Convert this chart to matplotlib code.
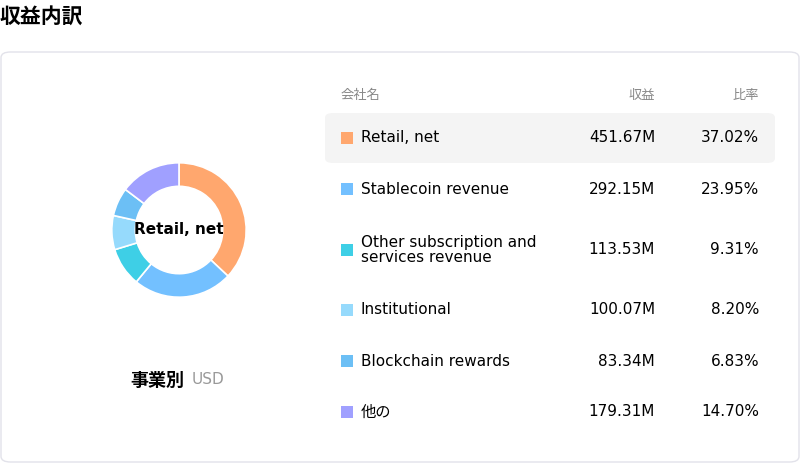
"""Revenue breakdown donut with table."""
import matplotlib
matplotlib.use("agg")
import matplotlib.pyplot as plt
from matplotlib.patches import FancyBboxPatch

plt.rcParams["font.family"] = ["DejaVu Sans", "Noto Sans CJK JP"]

labels = ["Retail, net", "Stablecoin revenue", "Other subscription and\nservices revenue",
          "Institutional", "Blockchain rewards", "他の"]
revenue = ["451.67M", "292.15M", "113.53M", "100.07M", "83.34M", "179.31M"]
shares = [37.02, 23.95, 9.31, 8.20, 6.83, 14.70]
colors = ["#FFA76E", "#73C0FF", "#3ECFE6", "#96DAFC", "#6CBFF5", "#A0A0FF"]

W, H = 800, 463
fig = plt.figure(figsize=(W / 100, H / 100), dpi=100)


def fx(x):
    return x / W


def fy(y):
    return 1 - y / H


# card
fig.patches.append(FancyBboxPatch((fx(1), fy(462)), fx(798), 410 / H,
                                  boxstyle="round,pad=0,rounding_size=0.012",
                                  transform=fig.transFigure, facecolor="white",
                                  edgecolor="#E2E2EA", linewidth=1, zorder=0))
fig.text(fx(0), fy(17), "収益内訳", fontsize=15, fontweight="bold", va="center", ha="left",
         family=["Noto Sans CJK JP"])

# donut
r = 84
ax = fig.add_axes([fx(179 - r), fy(230 + r), 2 * r / W, 2 * r / H], zorder=5)
ax.patch.set_alpha(0)
ax.pie(shares, colors=colors, startangle=90, counterclock=False, radius=1,
       wedgeprops=dict(width=0.35, edgecolor="white", linewidth=1.2))
ax.set_aspect("equal")
ax.text(0, 0, "Retail, net", ha="center", va="center", fontsize=11, fontweight="bold")

fig.text(fx(184), fy(380), "事業別", fontsize=13, fontweight="bold", ha="right", va="center",
         family=["Noto Sans CJK JP"])
fig.text(fx(192), fy(380), "USD", fontsize=11, color="#999999", ha="left", va="center")

# table
hdr = dict(fontsize=9.5, color="#888888", va="center", family=["Noto Sans CJK JP"])
fig.text(fx(341), fy(95), "会社名", ha="left", **hdr)
fig.text(fx(655), fy(95), "収益", ha="right", **hdr)
fig.text(fx(759), fy(95), "比率", ha="right", **hdr)

fig.patches.append(FancyBboxPatch((fx(325), fy(163)), fx(450), 50 / H,
                                  boxstyle="round,pad=0,rounding_size=0.01",
                                  transform=fig.transFigure, facecolor="#F4F4F4",
                                  edgecolor="none", zorder=1))

row_y = [138, 189, 250, 310, 361, 412]
for y, lab, rev, s, c in zip(row_y, labels, revenue, shares, colors):
    fig.patches.append(plt.Rectangle((fx(341), fy(y + 6)), fx(12), 12 / H,
                                     transform=fig.transFigure, facecolor=c, zorder=2))
    fig.text(fx(361), fy(y), lab, fontsize=11, ha="left", va="center", linespacing=1.0)
    fig.text(fx(655), fy(y), rev, fontsize=11, ha="right", va="center")
    fig.text(fx(759), fy(y), f"{s:.2f}%", fontsize=11, ha="right", va="center")

fig.savefig("out.png", dpi=100)
